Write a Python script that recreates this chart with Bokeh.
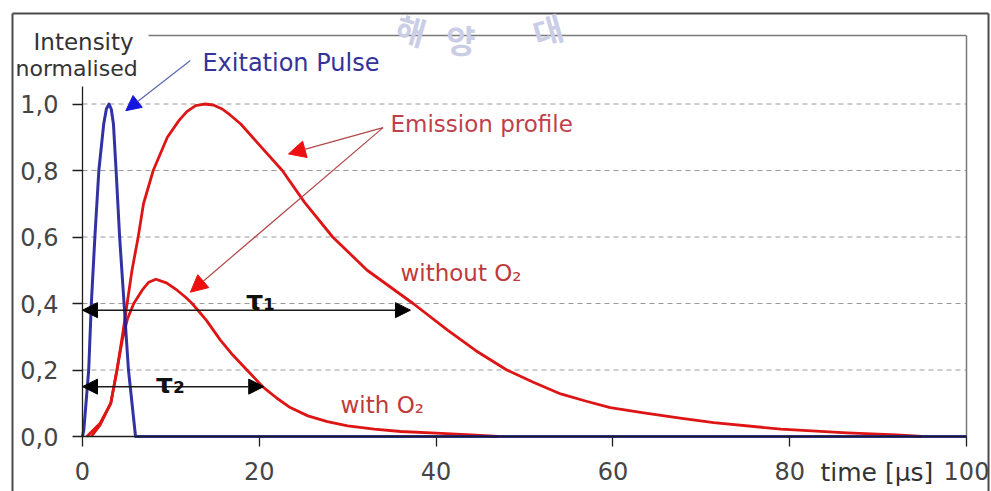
from bokeh.plotting import figure
from bokeh.models import Arrow, NormalHead, Label, FixedTicker, Range1d, LinearAxis
from bokeh.embed import file_html
from bokeh.resources import INLINE

# ---------------- data ----------------
pulse_t = [0.0, 0.15, 0.7, 1.0, 1.4, 1.85, 2.4, 2.7, 3.0, 3.25, 3.5, 3.8, 4.2, 4.7, 5.2, 6.0, 100.0]
pulse_i = [0.0, 0.02, 0.2, 0.4, 0.6, 0.8, 0.94, 0.985, 1.0, 0.985, 0.94, 0.8, 0.6, 0.4, 0.2, 0.0, 0.0]

no_o2_t = [0.5, 2.0, 3.2, 3.9, 4.5, 5.05, 5.6, 6.3, 6.9, 8.0, 9.6, 10.9, 11.8, 12.8, 13.8, 14.8,
           15.8, 16.7, 17.9, 20.0, 22.6, 25.1, 28.3, 32.2, 37.4, 41.3, 44.5, 48.0, 51.0, 54.1,
           57.0, 59.7, 63.5, 67.6, 71.4, 79.0, 86.5, 92.1, 95.0]
no_o2_i = [0.0, 0.04, 0.1, 0.2, 0.3, 0.4, 0.5, 0.6, 0.7, 0.8, 0.9, 0.95, 0.977, 0.995, 1.0, 0.997,
           0.985, 0.967, 0.94, 0.877, 0.8, 0.705, 0.6, 0.5, 0.4, 0.32, 0.258, 0.2, 0.163, 0.128,
           0.106, 0.087, 0.071, 0.055, 0.042, 0.022, 0.011, 0.005, 0.0]

o2_t = [1.0, 2.0, 3.2, 3.9, 4.5, 5.1, 5.8, 6.75, 7.5, 8.3, 9.5, 10.7, 11.7, 12.4, 14.0,
        15.6, 17.0, 18.6, 20.5, 22.0, 23.5, 25.5, 27.7, 30.0, 33.0, 36.0, 40.0, 44.0, 47.0]
o2_i = [0.0, 0.035, 0.1, 0.2, 0.29, 0.355, 0.40, 0.44, 0.464, 0.473, 0.462, 0.44, 0.418,
        0.40, 0.35, 0.29, 0.245, 0.2, 0.147, 0.115, 0.087, 0.062, 0.045, 0.032, 0.022,
        0.015, 0.01, 0.005, 0.0]

tau1_time = 37.1
tau1_level = 0.38
tau2_time = 20.5
tau2_level = 0.15

x_ticks = [0, 20, 40, 60, 80, 100]
x_tick_labels = ["0", "20", "40", "60", "80", "100"]
y_ticks = [0.0, 0.2, 0.4, 0.6, 0.8, 1.0]
y_tick_labels = ["0,0", "0,2", "0,4", "0,6", "0,8", "1,0"]

# ---------------- figure ----------------
FONT = "DejaVu Sans"
T_MAX = 100
Y_TOP = 1.206  # top of the plot box

# the frame covers the whole page; the axes sit at fixed positions inside it
p = figure(width=991, height=491, x_range=Range1d(-9.276, 102.828), y_range=Range1d(-0.1654, 1.3113),
           output_backend="svg", toolbar_location=None,
           x_axis_location=None, y_axis_location=None,
           min_border_left=0, min_border_right=0, min_border_top=0, min_border_bottom=0)
p.outline_line_color = None
p.background_fill_color = "white"
p.border_fill_color = "white"
p.grid.visible = False

# dashed horizontal grid lines inside the plot box
p.segment(x0=0, x1=T_MAX, y0=y_ticks[1:], y1=y_ticks[1:], line_color="#9a9a9a",
          line_dash="5 4", line_width=1)

xaxis = LinearAxis(fixed_location=0, bounds=(0, T_MAX))
yaxis = LinearAxis(fixed_location=0, bounds=(0, 1.054))
for ax, ticks, labels in ((xaxis, x_ticks, x_tick_labels), (yaxis, y_ticks, y_tick_labels)):
    ax.ticker = FixedTicker(ticks=ticks)
    ax.major_label_overrides = dict(zip(ticks, labels))
    ax.major_tick_out = 10
    ax.major_tick_in = 0
    ax.minor_tick_line_color = None
    ax.axis_line_color = "#1e1e1e"
    ax.axis_line_width = 1.3
    ax.major_tick_line_color = "#1e1e1e"
    ax.major_tick_line_width = 1.3
    ax.major_label_text_font = FONT
    ax.major_label_text_font_size = "24px"
    ax.major_label_text_color = "#454545"
yaxis.major_label_standoff = 14
xaxis.major_label_standoff = 15
p.add_layout(xaxis, "below")
p.add_layout(yaxis, "left")

# plot-box lines (top & right) and the outer border
frame_col = "#7a7a7a"
p.segment(x0=[7.47, T_MAX], y0=[Y_TOP, 0], x1=[T_MAX, T_MAX], y1=[Y_TOP, Y_TOP],
          line_color=frame_col, line_width=1.5)
border_col = "#4a4a4a"
bl, br, bt, bb = -7.92, 102.49, 1.272, -0.2
p.segment(x0=[bl, bl, br], y0=[bt, bt, bt], x1=[br, bl, br], y1=[bt, bb, bb],
          line_color=border_col, line_width=2)

# watermark
for ch, x, y, ang in (("해", 37.2, 1.225, -0.28), ("양", 42.8, 1.195, 0.0), ("대", 52.6, 1.225, 0.28)):
    p.add_layout(Label(x=x, y=y, text=ch, text_font="Noto Sans CJK KR", text_font_style="bold",
                       text_font_size="32px", text_color="#c9cde5", text_align="center",
                       text_baseline="middle", angle=ang))

# curves
red = "#dd1515"
p.line(no_o2_t, no_o2_i, line_color=red, line_width=2.8, line_join="round")
p.line(o2_t, o2_i, line_color=red, line_width=2.8, line_join="round")
p.line(pulse_t, pulse_i, line_color="#1c1c9a", line_width=3, line_alpha=0.9, line_join="round")

# tau arrows
for t, lvl in ((tau1_time, tau1_level), (tau2_time, tau2_level)):
    p.add_layout(Arrow(start=NormalHead(size=15, fill_color="black", line_color="black"),
                       end=NormalHead(size=15, fill_color="black", line_color="black"),
                       x_start=0, y_start=lvl, x_end=t, y_end=lvl,
                       line_color="#1a1a1a", line_width=1.5))

# annotation arrows
p.add_layout(Arrow(end=NormalHead(size=15, fill_color="#1515e0", line_color="#1515e0"),
                   x_start=12.2, y_start=1.131, x_end=4.9, y_end=0.98,
                   line_color="#5a68b0", line_width=1.2))
for xe, ye in ((23.3, 0.850), (12.2, 0.434)):
    p.add_layout(Arrow(end=NormalHead(size=17, fill_color="#ee1010", line_color="#ee1010"),
                       x_start=34.0, y_start=0.929, x_end=xe, y_end=ye,
                       line_color="#b04848", line_width=1.2))

# texts
def lab(x, y, text, color, size="23px", style="normal"):
    p.add_layout(Label(x=x, y=y, text=text, text_font=FONT, text_font_size=size,
                       text_font_style=style, text_color=color, text_align="left",
                       text_baseline="alphabetic"))

lab(-5.54, 1.185, "Intensity", "#333333", size="23px")
lab(-7.58, 1.107, "normalised", "#333333", size="22px")
lab(13.57, 1.122, "Exitation Pulse", "#33339a", size="24px")
lab(34.84, 0.941, "Emission profile", "#c0404a", size="23px")
lab(35.97, 0.493, "without O₂", "#c0393b", size="23px")
lab(29.19, 0.096, "with O₂", "#c0393b", size="23px")
lab(83.48, -0.108, "time [µs]", "#333333", size="25px")
lab(18.5, 0.409, "τ₁", "#111111", size="27px", style="bold")
lab(8.3, 0.159, "τ₂", "#111111", size="27px", style="bold")

open("out.html", "w").write(file_html(p, INLINE))
